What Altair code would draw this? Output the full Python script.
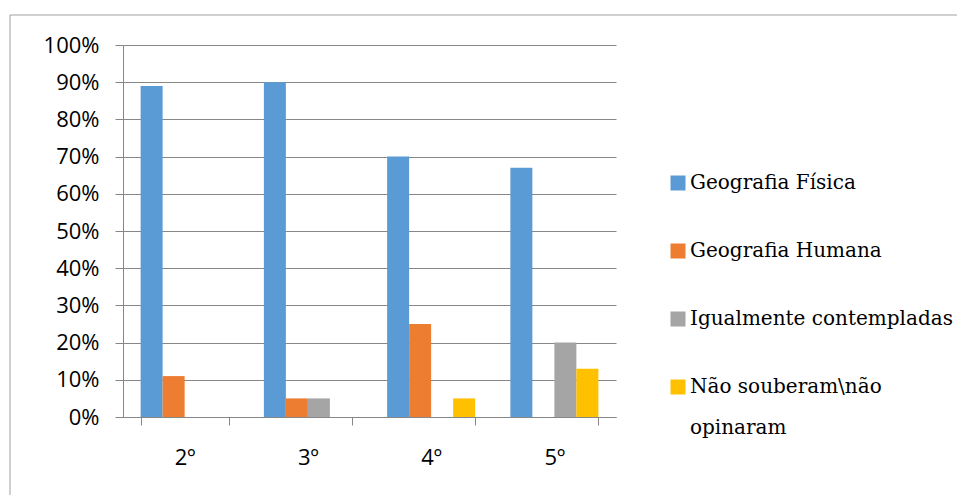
import altair as alt
import pandas as pd

# School years (x categories) and the answer categories (series)
grades = ["2º", "3º", "4º", "5º"]
series = [
    "Geografia Física",
    "Geografia Humana",
    "Igualmente contempladas",
    "Não souberam\\não opinaram",
]

# Share of answers per year, in percent
fisica = [89, 90, 70, 67]
humana = [11, 5, 25, 0]
igualmente = [0, 5, 0, 20]
nao_souberam = [0, 0, 5, 13]

colors = ["#5B9BD5", "#ED7D31", "#A5A5A5", "#FFC000"]
y_ticks = list(range(0, 101, 10))

rows = []
for name, vals in zip(series, [fisica, humana, igualmente, nao_souberam]):
    for g, v in zip(grades, vals):
        rows.append({"ano": g, "serie": name, "valor": v})
df = pd.DataFrame(rows)

GRID = "#878787"
AXIS_FONT = "Open Sans"
LEGEND_FONT = "DejaVu Serif"

bars = alt.Chart(df).mark_bar().encode(
    x=alt.X(
        "ano:N",
        sort=grades,
        scale=alt.Scale(paddingInner=0.286, paddingOuter=0.143),
        axis=alt.Axis(
            title=None,
            labelAngle=0,
            tickBand="extent",
            tickSize=8,
            tickColor=GRID,
            domainColor=GRID,
            labelFont=AXIS_FONT,
            labelFontSize=22,
            labelColor="#000000",
            labelPadding=22,
            grid=False,
        ),
    ),
    xOffset=alt.XOffset("serie:N", sort=series, scale=alt.Scale(paddingInner=0, paddingOuter=0)),
    y=alt.Y(
        "valor:Q",
        scale=alt.Scale(domain=[0, 100], nice=False),
        axis=alt.Axis(
            title=None,
            values=y_ticks,
            labelExpr="datum.value + '%'",
            tickSize=8,
            tickColor=GRID,
            domainColor=GRID,
            gridColor=GRID,
            grid=True,
            labelFont=AXIS_FONT,
            labelFontSize=22,
            labelColor="#000000",
            labelPadding=16,
        ),
    ),
    color=alt.Color(
        "serie:N",
        sort=series,
        scale=alt.Scale(domain=series, range=colors),
        legend=alt.Legend(
            title=None,
            orient="none",
            legendX=545,
            legendY=128,
            symbolType="square",
            symbolSize=225,
            symbolStrokeWidth=0,
            symbolOpacity=1,
            labelFont=LEGEND_FONT,
            labelFontSize=20,
            labelColor="#000000",
            labelOffset=2,
            labelLimit=400,
            rowPadding=48,
            labelExpr="indexof(datum.label, 'opinaram') > 0 ? [slice(datum.label, 0, -9), 'opinaram'] : datum.label",
        ),
    ),
)

# Frame lines along the top and left edges of the figure
frame = alt.Chart(pd.DataFrame({"k": [0]}))
top_line = frame.mark_rule(color="#A0A0A0", strokeWidth=1).encode(
    x=alt.value(-113), x2=alt.value(834), y=alt.value(-30)
)
left_line = frame.mark_rule(color="#A0A0A0", strokeWidth=1).encode(
    x=alt.value(-113), y=alt.value(-30), y2=alt.value(450)
)

chart = (
    alt.layer(bars, top_line, left_line)
    .properties(
        width=493,
        height=372,
        autosize=alt.AutoSizeParams(type="none"),
        padding={"left": 123, "top": 45, "right": 341, "bottom": 78},
    )
    .configure(background="#FFFFFF", style={"guide-label": {"lineHeight": 41}})
    .configure_view(stroke=None)
)

chart.save("out.html", embed_options={"renderer": "svg", "actions": False})
